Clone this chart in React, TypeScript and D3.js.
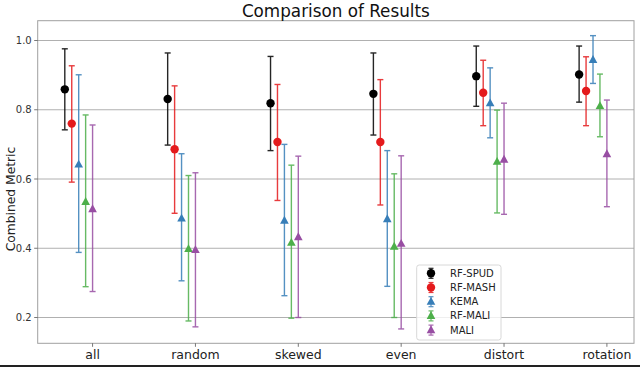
import React from "react";
import * as d3 from "d3";

const categories = ["all", "random", "skewed", "even", "distort", "rotation"];
const seriesNames = ["RF-SPUD", "RF-MASH", "KEMA", "RF-MALI", "MALI"];
const seriesColors = ["#000000", "#e41a1c", "#377eb8", "#4daf4a", "#984ea3"];
const seriesMarkers = ["circle", "circle", "triangle", "triangle", "triangle"];
const seriesOffsets = [-0.27, -0.2025, -0.135, -0.0675, 0];

// means per series (rows) per category (columns)
const means = [
  [0.859, 0.831, 0.819, 0.846, 0.897, 0.902],
  [0.760, 0.686, 0.707, 0.707, 0.849, 0.854],
  [0.642, 0.486, 0.480, 0.484, 0.819, 0.944],
  [0.534, 0.398, 0.416, 0.405, 0.650, 0.811],
  [0.513, 0.395, 0.432, 0.413, 0.656, 0.672],
];
const uppers = [
  [0.976, 0.964, 0.954, 0.964, 0.984, 0.984],
  [0.927, 0.869, 0.873, 0.887, 0.943, 0.953],
  [0.901, 0.673, 0.700, 0.682, 0.921, 1.014],
  [0.785, 0.610, 0.640, 0.615, 0.799, 0.903],
  [0.756, 0.618, 0.666, 0.667, 0.819, 0.828],
];
const lowers = [
  [0.742, 0.698, 0.682, 0.727, 0.810, 0.822],
  [0.591, 0.501, 0.538, 0.525, 0.754, 0.754],
  [0.388, 0.306, 0.263, 0.290, 0.719, 0.876],
  [0.289, 0.190, 0.198, 0.200, 0.502, 0.722],
  [0.275, 0.173, 0.200, 0.167, 0.498, 0.520],
];
const yTicks = [0.2, 0.4, 0.6, 0.8, 1.0];

const W = 640;
const H = 367;
const L = 37.7, R = 634, T = 20.7, B = 343.3;
const FONT = "DejaVu Sans, sans-serif";

function Marker({ kind, x, y, color }: { kind: string; x: number; y: number; color: string }) {
  if (kind === "circle") return <circle cx={x} cy={y} r={4.2} fill={color} />;
  const s = 4.8;
  const p = `M${x},${y - s} L${x + s * 0.9},${y + s * 0.65} L${x - s * 0.9},${y + s * 0.65} Z`;
  return <path d={p} fill={color} />;
}

export default function App() {
  const xmin = -0.27, xmax = categories.length - 1;
  const pad = 0.05 * (xmax - xmin);
  const x = d3.scaleLinear().domain([xmin - pad, xmax + pad]).range([L, R]);
  const y = d3.scaleLinear().domain([0.1255, 1.0572]).range([B, T]);
  const cap = 3;

  const legendX = 416.7, legendY = 265, legendW = 84.3, legendH = 75;

  return (
    <svg width={W} height={H} style={{ position: "absolute", left: 0, top: 0, background: "#fff" }} fontFamily={FONT}>
      <rect x={0} y={0} width={W} height={H} fill="#fff" />
      {/* grid */}
      {yTicks.map((t) => (
        <line key={t} x1={L} x2={R} y1={y(t)} y2={y(t)} stroke="#b0b0b0" strokeWidth={1} />
      ))}
      {/* series */}
      {seriesNames.map((name, si) => (
        <g key={name}>
          {categories.map((c, ci) => {
            const cx = x(ci + seriesOffsets[si]);
            const col = seriesColors[si];
            return (
              <g key={c}>
                <g stroke={col} strokeWidth={1.4} opacity={0.85}>
                  <line x1={cx} x2={cx} y1={y(lowers[si][ci])} y2={y(uppers[si][ci])} />
                  <line x1={cx - cap} x2={cx + cap} y1={y(lowers[si][ci])} y2={y(lowers[si][ci])} />
                  <line x1={cx - cap} x2={cx + cap} y1={y(uppers[si][ci])} y2={y(uppers[si][ci])} />
                </g>
                <Marker kind={seriesMarkers[si]} x={cx} y={y(means[si][ci])} color={col} />
              </g>
            );
          })}
        </g>
      ))}
      {/* frame */}
      <rect x={L} y={T} width={R - L} height={B - T} fill="none" stroke="#a0a0a0" strokeWidth={1} />
      {/* y ticks */}
      {yTicks.map((t) => (
        <g key={t}>
          <line x1={L - 3.5} x2={L} y1={y(t)} y2={y(t)} stroke="#555" strokeWidth={0.8} />
          <text x={L - 6} y={y(t)} dy="0.35em" textAnchor="end" fontSize={10} fill="#333">
            {t.toFixed(1)}
          </text>
        </g>
      ))}
      {/* x ticks */}
      {categories.map((c, ci) => (
        <g key={c}>
          <line x1={x(ci)} x2={x(ci)} y1={B} y2={B + 3.5} stroke="#555" strokeWidth={0.8} />
          <text x={x(ci)} y={B + 16} textAnchor="middle" fontSize={12.5} fill="#222">
            {c}
          </text>
        </g>
      ))}
      <text transform={`translate(10.5,${(T + B) / 2 + 17}) rotate(-90)`} textAnchor="middle" fontSize={12.3} fill="#222" dy="0.35em">
        Combined Metric
      </text>
      <text x={(L + R) / 2} y={T - 4} textAnchor="middle" fontSize={16.8} fill="#111">
        Comparison of Results
      </text>
      {/* legend */}
      <rect x={legendX} y={legendY} width={legendW} height={legendH} rx={2.5} fill="#fff" fillOpacity={0.8} stroke="#d8d8d8" strokeWidth={1} />
      {seriesNames.map((name, si) => {
        const ly = 273.3 + si * 14.2;
        const lx = 431;
        const col = seriesColors[si];
        return (
          <g key={name}>
            <g stroke={col} strokeWidth={1.2} opacity={0.85}>
              <line x1={lx} x2={lx} y1={ly - 5} y2={ly + 5} />
              <line x1={lx - 2.5} x2={lx + 2.5} y1={ly - 5} y2={ly - 5} />
              <line x1={lx - 2.5} x2={lx + 2.5} y1={ly + 5} y2={ly + 5} />
            </g>
            <Marker kind={seriesMarkers[si]} x={lx} y={ly} color={col} />
            <text x={450} y={ly} dy="0.35em" fontSize={10} fill="#222">
              {name}
            </text>
          </g>
        );
      })}
      <rect x={0} y={365} width={W} height={2} fill="#222" />
    </svg>
  );
}
